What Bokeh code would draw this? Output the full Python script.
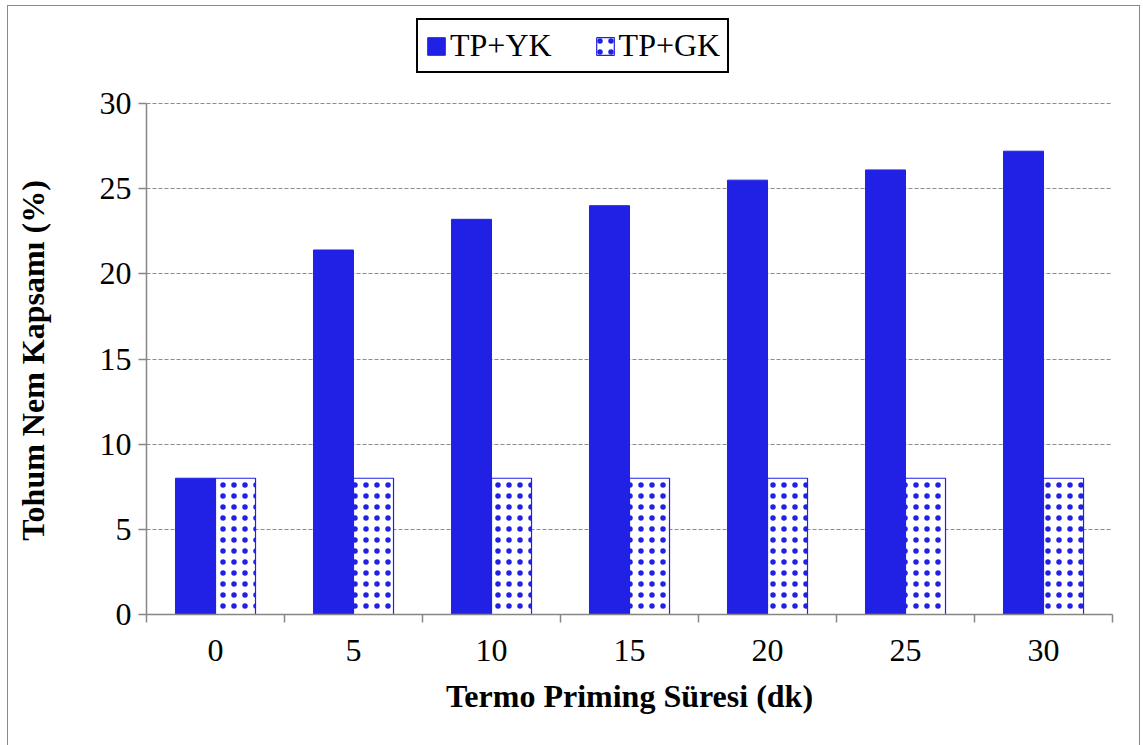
from bokeh.plotting import figure
from bokeh.models import ColumnDataSource, FixedTicker, Legend, LegendItem
from bokeh.embed import file_html
from bokeh.resources import INLINE

# Seed moisture content (%) by thermo-priming duration (min)
durations = ["0", "5", "10", "15", "20", "25", "30"]
tp_yk = [8.0, 21.4, 23.2, 24.0, 25.5, 26.1, 27.2]
tp_gk = [8.0, 8.0, 8.0, 8.0, 8.0, 8.0, 8.0]
y_ticks = [0, 5, 10, 15, 20, 25, 30]

BLUE = "#2121e6"
AXIS_GRAY = "#868686"
FONT = "Liberation Serif"
NBSP = "\u00a0"

# plot area: value axis spans 511 px for 0..30; the frame reaches higher
# so the legend can sit above the top gridline
AXIS_PX = 511
FRAME_PX = 604
y_top = y_ticks[-1] * FRAME_PX / AXIS_PX

bar_w = 0.29
centers = [i + 0.5 for i in range(len(durations))]
src = ColumnDataSource(dict(
    x_yk=[c - bar_w / 2 for c in centers],
    x_gk=[c + bar_w / 2 for c in centers],
    yk=tp_yk,
    gk=tp_gk,
))

p = figure(
    width=1133, height=740,
    x_range=(0, len(durations)), y_range=(y_ticks[0], y_top),
    output_backend="svg", toolbar_location=None,
    min_border_left=138, min_border_right=29,
    min_border_top=4, min_border_bottom=132,
)
p.styles = {
    "margin-left": "7px", "margin-top": "5px",
    "border-left": "1px solid #8a8a8a",
    "border-right": "1px solid #8a8a8a",
    "border-top": "1px solid #8a8a8a",
}
p.outline_line_color = None
p.background_fill_color = "white"
p.border_fill_color = "white"

r_yk = p.vbar(x="x_yk", top="yk", width=bar_w, bottom=0, source=src,
              fill_color=BLUE, line_color=BLUE, line_width=1)
r_gk = p.vbar(x="x_gk", top="gk", width=bar_w, bottom=0, source=src,
              fill_color="white", line_color=BLUE, line_width=1.2,
              hatch_pattern="dot", hatch_color=BLUE, hatch_scale=11,
              hatch_weight=7)

# x axis: labels at category centres, ticks at category boundaries
xt = FixedTicker(ticks=centers, minor_ticks=list(range(len(durations) + 1)))
p.xaxis.ticker = xt
p.xaxis.major_label_overrides = {c: d for c, d in zip(centers, durations)}
p.xaxis.major_tick_out = 0
p.xaxis.major_tick_in = 0
p.xaxis.minor_tick_out = 8
p.xaxis.minor_tick_in = 0
p.xaxis.minor_tick_line_color = AXIS_GRAY
p.xaxis.minor_tick_line_width = 1.5

p.yaxis.ticker = FixedTicker(ticks=y_ticks)
p.yaxis.bounds = (y_ticks[0], y_ticks[-1])
p.yaxis.major_tick_out = 8
p.yaxis.major_tick_in = 0
p.yaxis.minor_tick_line_color = None

for ax in (p.xaxis, p.yaxis):
    ax.axis_line_color = AXIS_GRAY
    ax.axis_line_width = 1.5
    ax.major_tick_line_color = AXIS_GRAY
    ax.major_tick_line_width = 1.5
    ax.major_label_text_font = FONT
    ax.major_label_text_font_size = "32px"
    ax.major_label_text_color = "black"
    ax.axis_label_text_font = FONT
    ax.axis_label_text_font_style = "bold"
    ax.axis_label_text_font_size = "32px"
    ax.axis_label_text_color = "black"

p.xaxis.axis_label = "Termo Priming Süresi (dk)"
# trailing no-break spaces keep the title centred on the 0..30 part of the axis
p.yaxis.axis_label = "Tohum Nem Kapsamı (%)" + NBSP * 12
p.xaxis.major_label_standoff = 17
p.xaxis.axis_label_standoff = 14
p.yaxis.major_label_standoff = 7
p.yaxis.axis_label_standoff = 46

p.xgrid.grid_line_color = None
p.ygrid.ticker = FixedTicker(ticks=y_ticks[1:])
p.ygrid.grid_line_color = "#8c8c8c"
p.ygrid.grid_line_dash = "4 2"
p.ygrid.grid_line_width = 1.2

legend = Legend(
    items=[LegendItem(label="TP+YK", renderers=[r_yk]),
           LegendItem(label="TP+GK", renderers=[r_gk])],
    orientation="horizontal",
    location=(270, 541),
    glyph_width=22, glyph_height=22, label_standoff=3, spacing=42,
    padding=7, margin=0,
    border_line_color="black", border_line_width=2, border_line_alpha=1,
    background_fill_color="white", background_fill_alpha=1,
)
legend.label_text_font = FONT
legend.label_text_font_size = "32px"
legend.label_text_color = "black"
p.add_layout(legend, "center")

open("out.html", "w").write(file_html(p, INLINE))
